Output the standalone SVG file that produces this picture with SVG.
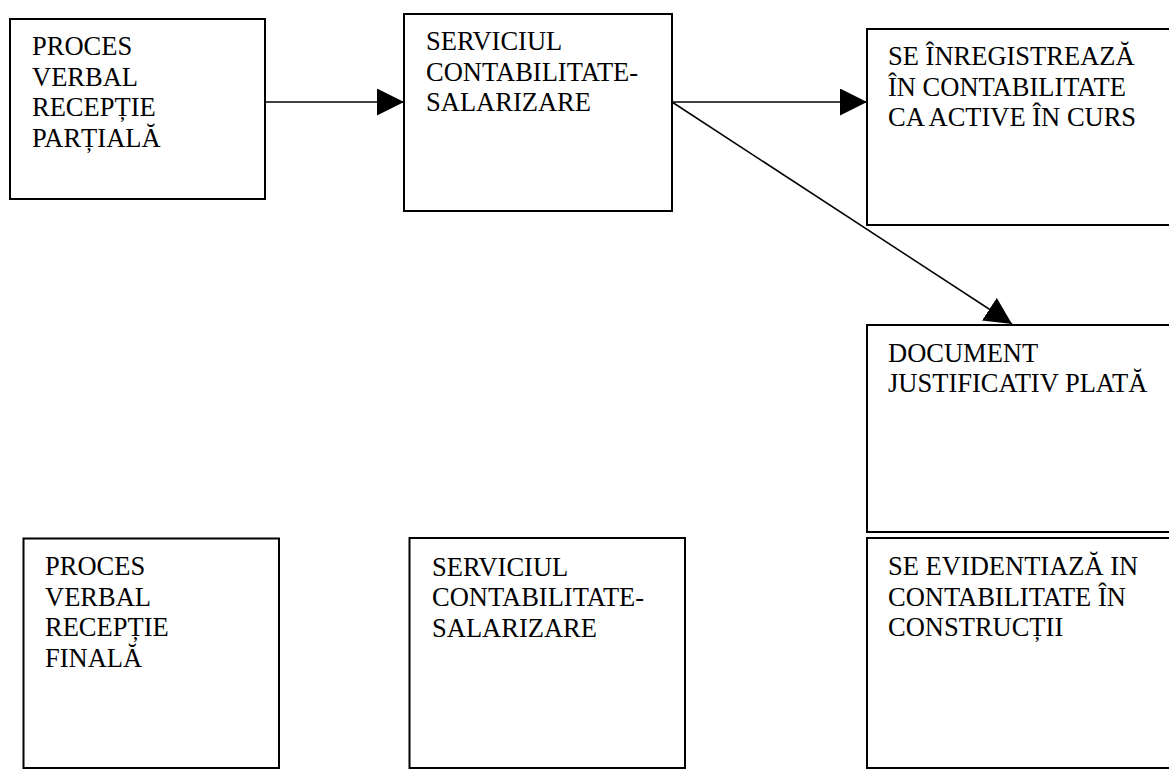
<svg xmlns="http://www.w3.org/2000/svg" width="1169" height="770" viewBox="0 0 1169 770">
<style>
.box{fill:#fff;stroke:#000;stroke-width:2}
.lbl{font-family:'Liberation Serif','Times New Roman','DejaVu Serif',serif;font-size:26.5px;fill:#000}
.con{stroke:#000;stroke-width:1.5;fill:none}
</style>
<defs>
<marker id="ah" viewBox="0 0 27 27" markerWidth="27" markerHeight="27" refX="27" refY="13.5" orient="auto" markerUnits="userSpaceOnUse">
<path d="M0,0 L27,13.5 L0,27 z" fill="#000"/>
</marker>
</defs>
<rect width="1169" height="770" fill="#fff"/>
<g id="n1">
<rect class="box" x="10" y="19" width="255" height="180"/>
<text class="lbl" font-family="Liberation Serif, serif"><tspan x="32" y="55">PROCES</tspan><tspan x="32" y="85.5">VERBAL</tspan><tspan x="32" y="116">RECEPȚIE</tspan><tspan x="32" y="146.5">PARȚIALĂ</tspan></text>
</g>
<g id="n2">
<rect class="box" x="404" y="14" width="268" height="197"/>
<text class="lbl" font-family="Liberation Serif, serif"><tspan x="426" y="50">SERVICIUL</tspan><tspan x="426" y="80.5">CONTABILITATE-</tspan><tspan x="426" y="111">SALARIZARE</tspan></text>
</g>
<g id="n3">
<rect class="box" x="867" y="29" width="310" height="196"/>
<text class="lbl" font-family="Liberation Serif, serif"><tspan x="888" y="65">SE ÎNREGISTREAZĂ</tspan><tspan x="888" y="95.5">ÎN CONTABILITATE</tspan><tspan x="888" y="126">CA ACTIVE ÎN CURS</tspan></text>
</g>
<g id="n4">
<rect class="box" x="867" y="325" width="310" height="207"/>
<text class="lbl" font-family="Liberation Serif, serif"><tspan x="888" y="362">DOCUMENT</tspan><tspan x="888" y="392">JUSTIFICATIV PLATĂ</tspan></text>
</g>
<g id="n5">
<rect class="box" x="867" y="538" width="310" height="230"/>
<text class="lbl" font-family="Liberation Serif, serif"><tspan x="888" y="575">SE EVIDENTIAZĂ IN</tspan><tspan x="888" y="605.5">CONTABILITATE ÎN</tspan><tspan x="888" y="636">CONSTRUCȚII</tspan></text>
</g>
<g id="n6">
<rect class="box" x="23.5" y="538.5" width="255.5" height="229.5"/>
<text class="lbl" font-family="Liberation Serif, serif"><tspan x="45" y="575">PROCES</tspan><tspan x="45" y="605.5">VERBAL</tspan><tspan x="45" y="636">RECEPȚIE</tspan><tspan x="45" y="666.5">FINALĂ</tspan></text>
</g>
<g id="n7">
<rect class="box" x="409.5" y="538" width="275.5" height="230"/>
<text class="lbl" font-family="Liberation Serif, serif"><tspan x="432" y="575.5">SERVICIUL</tspan><tspan x="432" y="606">CONTABILITATE-</tspan><tspan x="432" y="636.5">SALARIZARE</tspan></text>
</g>
<g id="connectors">
<line class="con" x1="265" y1="102" x2="404" y2="102" marker-end="url(#ah)"/>
<line class="con" x1="672" y1="102" x2="867" y2="102" marker-end="url(#ah)"/>
<line class="con" x1="672" y1="102" x2="1012" y2="324" marker-end="url(#ah)"/>
</g>
</svg>
